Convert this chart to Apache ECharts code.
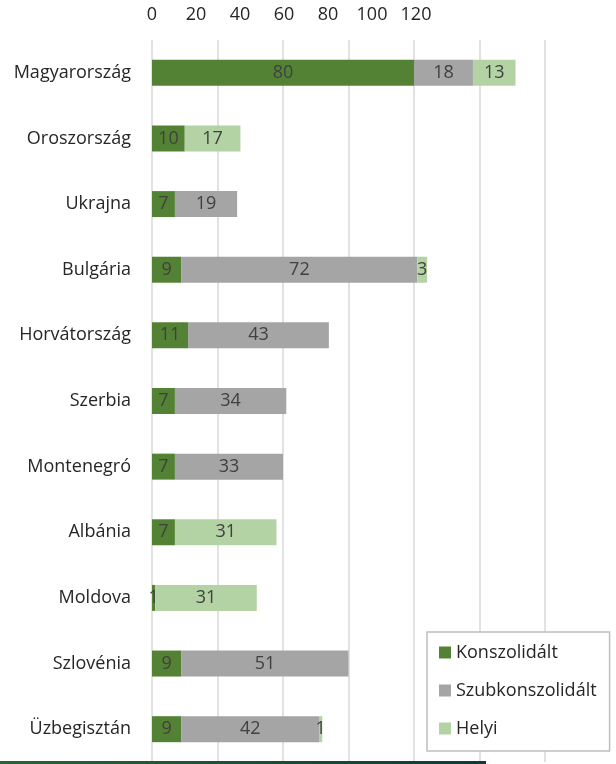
<!DOCTYPE html>
<html>
<head>
<meta charset="utf-8">
<script src="https://cdn.jsdelivr.net/npm/echarts@6/dist/echarts.min.js"></script>
<style>
    html, body { margin: 0; padding: 0; background: #fff; }
    #chart { width: 616px; height: 764px; }
</style>
</head>
<body>
<div id="chart"></div>
<script>
// országok (felülről lefelé)
var countries = ['Magyarország', 'Oroszország', 'Ukrajna', 'Bulgária', 'Horvátország', 'Szerbia',
    'Montenegró', 'Albánia', 'Moldova', 'Szlovénia', 'Üzbegisztán'];

var konszolidalt = [80, 10, 7, 9, 11, 7, 7, 7, 1, 9, 9];
var szubkonszolidalt = [18, 0, 19, 72, 43, 34, 33, 0, 0, 51, 42];
var helyi = [13, 17, 0, 3, 0, 0, 0, 31, 31, 0, 1];

// a felső tengely feliratai
var tickLabels = [0, 20, 40, 60, 80, 100, 120];

var FONT = 'Open Sans';
var TXT = '#404040';

var myChart = echarts.init(document.getElementById('chart'), null, { renderer: 'canvas' });

function barLabel() {
    return {
        show: true,
        position: 'inside',
        color: TXT,
        fontFamily: FONT,
        fontSize: 18,
        formatter: function (p) { return p.value === 0 ? '' : p.value; }
    };
}

var option = {
    animation: false,
    backgroundColor: '#ffffff',
    grid: [
        { left: 152, top: 40, width: 393, height: 722 },   // oszlopok
        { left: 152, top: 40, width: 264, height: 722 }    // csak a felső feliratok
    ],
    legend: {
        orient: 'vertical',
        left: 427,
        top: 632,
        padding: [10, 13, 12, 12],
        itemWidth: 12,
        itemHeight: 12,
        itemGap: 17,
        icon: 'rect',
        backgroundColor: '#ffffff',
        borderColor: '#bfbfbf',
        borderWidth: 1.5,
        textStyle: { color: '#262626', fontFamily: FONT, fontSize: 18, lineHeight: 21 },
        data: ['Konszolidált', 'Szubkonszolidált', 'Helyi']
    },
    xAxis: [
        {
            gridIndex: 0,
            type: 'value',
            min: 0,
            max: 120,
            interval: 20,
            position: 'top',
            axisLabel: { show: false },
            axisTick: { show: false },
            axisLine: { show: false },
            splitLine: { show: true, lineStyle: { color: '#d9d9d9', width: 1.5 } }
        },
        {
            gridIndex: 1,
            type: 'value',
            min: tickLabels[0],
            max: tickLabels[tickLabels.length - 1],
            interval: 20,
            position: 'top',
            axisLabel: { show: true, color: '#262626', fontFamily: FONT, fontSize: 18, margin: 16 },
            axisTick: { show: false },
            axisLine: { show: false },
            splitLine: { show: false }
        }
    ],
    yAxis: [
        {
            gridIndex: 0,
            type: 'category',
            inverse: true,
            data: countries,
            axisLine: { show: false },
            axisTick: { show: false },
            axisLabel: { color: '#262626', fontFamily: FONT, fontSize: 18, margin: 21 }
        },
        {
            gridIndex: 1,
            type: 'category',
            inverse: true,
            data: countries,
            show: false
        }
    ],
    series: [
        {
            name: 'Konszolidált',
            type: 'bar',
            stack: 'ossz',
            barWidth: 26,
            itemStyle: { color: '#548235' },
            label: barLabel(),
            data: konszolidalt
        },
        {
            name: 'Szubkonszolidált',
            type: 'bar',
            stack: 'ossz',
            barWidth: 26,
            itemStyle: { color: '#a5a5a5' },
            label: barLabel(),
            data: szubkonszolidalt
        },
        {
            name: 'Helyi',
            type: 'bar',
            stack: 'ossz',
            barWidth: 26,
            itemStyle: { color: '#b4d3a4' },
            label: barLabel(),
            data: helyi
        }
    ],
    graphic: [
        {
            // sötét sáv a kép alján
            type: 'rect',
            left: 0,
            top: 761,
            shape: { width: 486, height: 3 },
            style: {
                fill: new echarts.graphic.LinearGradient(0, 0, 1, 0, [
                    { offset: 0, color: '#2a6530' },
                    { offset: 1, color: '#0f3a38' }
                ])
            },
            z: 100
        }
    ]
};

myChart.setOption(option);
</script>
</body>
</html>
